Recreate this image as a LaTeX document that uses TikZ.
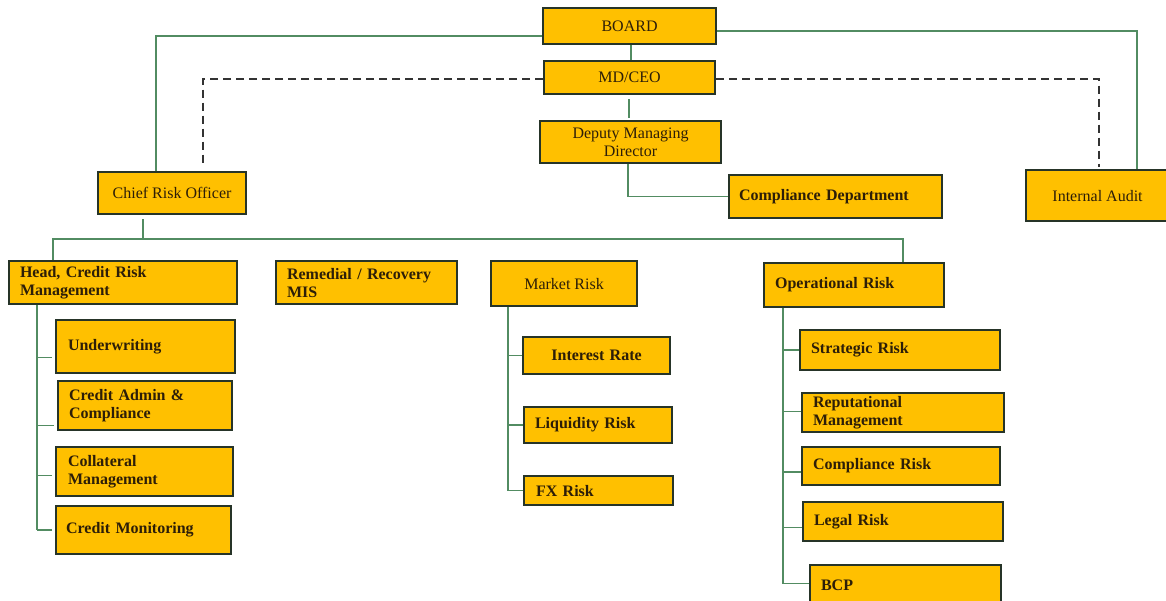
\documentclass[tikz,border=0pt]{standalone}
\usepackage{fontspec}
\setmainfont{Liberation Serif}
\definecolor{gold}{RGB}{255,192,0}
\definecolor{boxline}{RGB}{38,52,40}
\definecolor{gl}{RGB}{82,140,98}
\definecolor{txt}{RGB}{45,30,8}
\tikzset{
  box/.style={draw=boxline, fill=gold, line width=2.1pt, text=txt, anchor=north west,
    font=\fontsize{16}{18}\selectfont},
  cbox/.style 2 args={box, minimum width=#1, minimum height=#2, inner sep=0pt, align=center},
  lbox/.style n args={3}{box, text width=#1, inner xsep=#3, inner ysep=0pt, minimum height=#2, align=left,
    font=\fontsize{16}{18}\selectfont\bfseries},
  gline/.style={draw=gl, line width=1.8pt},
  dline/.style={draw=black!80, line width=2pt, dash pattern=on 8pt off 5pt},
}
\begin{document}
\begin{tikzpicture}[x=1pt,y=-1pt]
\useasboundingbox (0,0) rectangle (1166,601);
% top
\node[cbox={173pt}{36pt}] (board) at (542,7) {BOARD};
\node[cbox={171pt}{33pt}] (mdceo) at (543,60) {MD/CEO};
\node[cbox={181pt}{42pt}] (dmd) at (539,120) {Deputy Managing\\Director};
\node[lbox={193pt}{43pt}{10pt}] (comp) at (728,174) {Compliance Department};
\node[cbox={143pt}{51pt}] (ia) at (1025,169) {Internal Audit};
\node[cbox={148pt}{42pt}] (cro) at (97,171) {Chief Risk Officer};
% second level
\node[lbox={206pt}{43pt}{11pt}] (hcr) at (8,260) {Head, Credit Risk\\Management};
\node[lbox={159pt}{43pt}{11pt}] (rem) at (275,260) {Remedial / Recovery\\MIS};
\node[cbox={146pt}{45pt}] (mr) at (490,260) {Market Risk};
\node[lbox={158pt}{44pt}{11pt}] (or) at (763,262) {Operational Risk};
% credit
\node[lbox={155pt}{53pt}{12pt}] (uw) at (55,319) {Underwriting};
\node[lbox={152pt}{49pt}{11pt}] (ca) at (57,380) {Credit Admin \&\\Compliance};
\node[lbox={153pt}{49pt}{12pt}] (cm) at (55,446) {Collateral\\Management};
\node[lbox={155pt}{48pt}{10pt}] (cmon) at (55,505) {Credit Monitoring};
% market
\node[lbox={119pt}{37pt}{14pt}] (ir) at (522,336) {\hfil Interest Rate\hfil};
\node[lbox={126pt}{36pt}{11pt}] (lr) at (523,406) {Liquidity Risk};
\node[lbox={125pt}{29pt}{12pt}] (fx) at (523,475) {FX Risk};
% operational
\node[lbox={178pt}{40pt}{11pt}] (sr) at (799,329) {Strategic Risk};
\node[lbox={180pt}{39pt}{11pt}] (rm) at (801,392) {Reputational\\Management};
\node[lbox={176pt}{38pt}{11pt}] (cr) at (801,446) {Compliance Risk};
\node[lbox={178pt}{39pt}{11pt}] (lgr) at (802,501) {Legal Risk};
\node[lbox={169pt}{41pt}{11pt}] (bcp) at (809,564) {BCP};
% top connectors
\draw[gline] ([yshift=-10pt]board.west) -| ([xshift=-16pt]cro.north);
\draw[gline] ([yshift=-5pt]board.east) -| ([xshift=39.5pt]ia.north);
\draw[dline] ([yshift=-1pt]mdceo.west) -| ([xshift=31pt,yshift=6pt]cro.north);
\draw[dline] ([yshift=-1pt]mdceo.east) -| ([xshift=1.5pt,yshift=2pt]ia.north);
\coordinate (b1) at ([xshift=1.5pt]board.south);
\draw[gline] (b1) -- (b1 |- mdceo.north);
\coordinate (m1) at ([xshift=-0.5pt,yshift=-4pt]mdceo.south);
\coordinate (m2) at ([yshift=2pt]dmd.north);
\draw[gline] (m1) -- (m1 |- m2);
\draw[gline] ([xshift=-2.5pt]dmd.south) |- (comp.west);
% CRO bus
\coordinate (bus) at ([xshift=-29pt,yshift=-24pt]cro.south);
\draw[gline] ([xshift=-29pt,yshift=-4pt]cro.south) -- (bus);
\draw[gline] ([xshift=-70pt]hcr.north) |- (bus) -| ([xshift=49pt]or.north);
% credit spine
\coordinate (cs) at ([xshift=-86pt]hcr.south);
\draw[gline] (cs) -- (cs |- cmon.west);
\foreach \n/\d in {uw/-11, ca/-20, cm/-4, cmon/0}{
  \coordinate (t) at ([xshift=-3pt,yshift=\d pt]\n.west);
  \draw[gline] (t) -- (cs |- t);}
% market spine
\coordinate (ms) at ([xshift=-56pt]mr.south);
\draw[gline] (ms) -- (ms |- fx.west);
\foreach \n in {ir, lr, fx}
  \draw[gline] (\n.west) -- (ms |- \n.west);
% operational spine
\coordinate (os) at ([xshift=-71pt]or.south);
\coordinate (oe) at ([yshift=2pt]bcp.west);
\draw[gline] (os) -- (os |- oe);
\foreach \n/\d in {sr/0, rm/1, cr/-6, lgr/-6, bcp/2}{
  \coordinate (t) at ([yshift=\d pt]\n.west);
  \draw[gline] (t) -- (os |- t);}
\end{tikzpicture}
\end{document}
